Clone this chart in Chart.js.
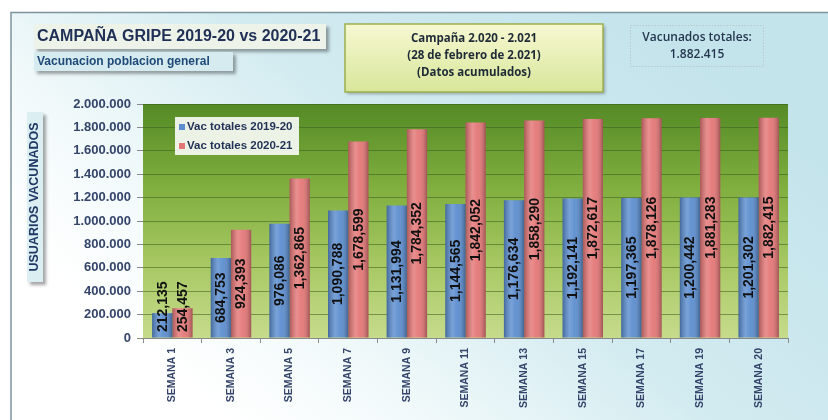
<!DOCTYPE html>
<html>
<head>
<meta charset="utf-8">
<script src="https://cdn.jsdelivr.net/npm/chart.js@4.4.1/dist/chart.umd.min.js"></script>
<style>
  html, body { margin: 0; padding: 0; background: #ffffff; }
  #wrap { width: 828px; height: 420px; position: relative; }
</style>
</head>
<body>
<div id="wrap"><canvas id="c" width="828" height="420"></canvas></div>
<script>
// ---- Data ----
const categories = ['SEMANA 1','SEMANA 3','SEMANA 5','SEMANA 7','SEMANA 9','SEMANA 11','SEMANA 13','SEMANA 15','SEMANA 17','SEMANA 19','SEMANA 20'];
const vac1920 = [212135, 684753, 976086, 1090788, 1131994, 1144565, 1176634, 1192141, 1197365, 1200442, 1201302];
const vac2021 = [254457, 924393, 1362865, 1678599, 1784352, 1842052, 1858290, 1872617, 1878126, 1881283, 1882415];
const seriesNames = ['Vac totales 2019-20', 'Vac totales 2020-21'];
const yMin = 0, yMax = 2000000, yStep = 200000;
const titleText = 'CAMPAÑA GRIPE 2019-20 vs 2020-21';
const subtitleText = 'Vacunacion poblacion general';
const infoLines = ['Campaña 2.020 - 2.021', '(28 de febrero de 2.021)', '(Datos acumulados)'];
const totalLines = ['Vacunados totales:', '1.882.415'];
const yAxisTitle = 'USUARIOS VACUNADOS';

const ARIAL = '"Liberation Sans", Arial, sans-serif';
const CALIBRI = '"Open Sans", "Noto Sans", sans-serif';

function fmtDots(n) { return String(n).replace(/\B(?=(\d{3})+(?!\d))/g, '.'); }
function fmtCommas(n) { return String(n).replace(/\B(?=(\d{3})+(?!\d))/g, ','); }

// ---- Background & decoration plugin ----
const decor = {
  id: 'decor',
  beforeDraw(chart) {
    const ctx = chart.ctx, W = chart.width, H = chart.height, ca = chart.chartArea;
    ctx.save();
    ctx.fillStyle = '#ffffff';
    ctx.fillRect(0, 0, W, H);
    // light blue panel
    const g = ctx.createLinearGradient(620, 0, 250, 440);
    g.addColorStop(0, '#c4e4ec');
    g.addColorStop(0.45, '#d2ebf0');
    g.addColorStop(0.8, '#f3fafb');
    g.addColorStop(1, '#ffffff');
    ctx.fillStyle = g;
    ctx.fillRect(11, 12, W - 11, H - 12);
    // frame
    ctx.strokeStyle = '#7e949c';
    ctx.lineWidth = 1.5;
    ctx.beginPath();
    ctx.moveTo(11, H); ctx.lineTo(11, 12.5); ctx.lineTo(W, 12.5);
    ctx.stroke();

    // plot area gradient
    const pg = ctx.createLinearGradient(0, ca.top, 0, ca.bottom);
    pg.addColorStop(0, '#548a26');
    pg.addColorStop(0.35, '#7fae3e');
    pg.addColorStop(0.7, '#a9c965');
    pg.addColorStop(1, '#c6db8c');
    ctx.fillStyle = pg;
    ctx.fillRect(ca.left, ca.top, ca.right - ca.left, ca.bottom - ca.top);

    // title box
    ctx.save();
    ctx.shadowColor = 'rgba(0,0,0,0.35)';
    ctx.shadowOffsetX = 3; ctx.shadowOffsetY = 3; ctx.shadowBlur = 3;
    ctx.fillStyle = '#edf3e8';
    ctx.fillRect(34, 24, 292, 25);
    ctx.fillStyle = '#d6ebef';
    ctx.fillRect(34, 52, 199, 19);
    // y title box
    ctx.fillStyle = '#dbeef2';
    ctx.fillRect(27, 112, 16, 170);
    ctx.restore();

    ctx.fillStyle = '#1f2f55';
    ctx.font = 'bold 16px ' + ARIAL;
    ctx.textBaseline = 'middle';
    ctx.textAlign = 'left';
    ctx.fillText(titleText, 37, 36.5);
    ctx.fillStyle = '#1f4a78';
    ctx.font = 'bold 12px ' + ARIAL;
    ctx.fillText(subtitleText, 37, 61.5);

    // info box
    ctx.save();
    ctx.shadowColor = 'rgba(0,0,0,0.3)';
    ctx.shadowOffsetX = 2; ctx.shadowOffsetY = 2; ctx.shadowBlur = 3;
    const yg = ctx.createLinearGradient(0, 24, 0, 92);
    yg.addColorStop(0, '#f7f8d2');
    yg.addColorStop(1, '#d8e69a');
    ctx.fillStyle = yg;
    ctx.fillRect(345, 24, 258, 68);
    ctx.restore();
    ctx.strokeStyle = '#9cb04c';
    ctx.lineWidth = 1.5;
    ctx.strokeRect(345, 24, 258, 68);
    ctx.fillStyle = '#1e2a36';
    ctx.font = 'bold 11.5px ' + CALIBRI;
    ctx.textAlign = 'center';
    infoLines.forEach((t, i) => ctx.fillText(t, 474, 39 + i * 17));

    // totals box
    ctx.save();
    ctx.setLineDash([1.5, 1.5]);
    ctx.strokeStyle = '#b9c8cd';
    ctx.lineWidth = 1;
    ctx.strokeRect(630.5, 25.5, 133, 41);
    ctx.restore();
    ctx.fillStyle = '#24374f';
    ctx.font = '600 12px ' + CALIBRI;
    ctx.fillText(totalLines[0], 697, 38);
    ctx.fillText(totalLines[1], 697, 55);

    // y axis title
    ctx.save();
    ctx.translate(35, 197);
    ctx.rotate(-Math.PI / 2);
    ctx.fillStyle = '#1f3864';
    ctx.font = 'bold 12.5px ' + ARIAL;
    ctx.textAlign = 'center';
    ctx.textBaseline = 'middle';
    ctx.fillText(yAxisTitle, 0, 0);
    ctx.restore();
    ctx.restore();
  },
  afterDatasetsDraw(chart) {
    const ctx = chart.ctx;
    const base = chart.scales.y.getPixelForValue(0);
    ctx.save();
    // cylinder shading on bars
    chart.data.datasets.forEach((ds, di) => {
      const meta = chart.getDatasetMeta(di);
      meta.data.forEach(bar => {
        const w = bar.width, x0 = bar.x - w / 2;
        const sg = ctx.createLinearGradient(x0, 0, x0 + w, 0);
        sg.addColorStop(0, 'rgba(0,0,0,0.25)');
        sg.addColorStop(0.35, 'rgba(255,255,255,0.18)');
        sg.addColorStop(0.6, 'rgba(255,255,255,0.05)');
        sg.addColorStop(1, 'rgba(0,0,0,0.3)');
        ctx.fillStyle = sg;
        ctx.fillRect(x0, bar.y, w, bar.base - bar.y);
      });
    });
    // data labels
    ctx.font = 'bold 14px ' + ARIAL;
    ctx.fillStyle = '#111111';
    ctx.textAlign = 'center';
    ctx.textBaseline = 'middle';
    chart.data.datasets.forEach((ds, di) => {
      const meta = chart.getDatasetMeta(di);
      meta.data.forEach((bar, i) => {
        const txt = fmtCommas(ds.data[i]);
        const len = ctx.measureText(txt).width;
        let cy = (bar.y + bar.base) / 2;
        cy = Math.min(cy, base - len / 2 - 6);
        ctx.save();
        ctx.translate(bar.x + 0.5, cy);
        ctx.rotate(-Math.PI / 2);
        ctx.fillText(txt, 0, 0);
        ctx.restore();
      });
    });
    ctx.restore();
  },
  afterDraw(chart) {
    const ctx = chart.ctx;
    ctx.save();
    ctx.fillStyle = 'rgba(255,255,255,0.88)';
    ctx.fillRect(175, 117, 124, 38);
    ctx.font = 'bold 11.5px ' + ARIAL;
    ctx.textBaseline = 'middle';
    ctx.textAlign = 'left';
    chart.data.datasets.forEach((ds, i) => {
      const y = 127 + i * 19;
      ctx.fillStyle = ds.backgroundColor;
      ctx.fillRect(179, y - 3, 6, 6);
      ctx.fillStyle = '#1f2f55';
      ctx.fillText(ds.label, 187, y);
    });
    ctx.restore();
  }
};

new Chart(document.getElementById('c'), {
  type: 'bar',
  data: {
    labels: categories,
    datasets: [
      { label: seriesNames[0], data: vac1920, backgroundColor: '#5b8dcf', borderWidth: 0, categoryPercentage: 0.69, barPercentage: 1.0 },
      { label: seriesNames[1], data: vac2021, backgroundColor: '#e47676', borderWidth: 0, categoryPercentage: 0.69, barPercentage: 1.0 }
    ]
  },
  options: {
    responsive: false,
    animation: false,
    events: [],
    layout: { padding: { left: 0, right: 40, top: 104, bottom: 0 } },
    plugins: { legend: { display: false }, title: { display: false }, tooltip: { enabled: false } },
    scales: {
      x: {
        afterFit(s) { s.height = 82; },
        grid: { offset: true, drawOnChartArea: false, tickLength: 5, color: '#8a8a8a' },
        border: { color: '#8a8a8a', width: 1 },
        ticks: {
          minRotation: 90, maxRotation: 90, autoSkip: false, padding: 5,
          color: '#34446a', font: { family: ARIAL, size: 10.5, weight: 'bold' }
        }
      },
      y: {
        min: yMin, max: yMax,
        afterFit(s) { s.width = 143; },
        grid: { color: 'rgba(58,92,28,0.55)', tickLength: 6, tickColor: '#8a8a8a' },
        border: { display: false },
        ticks: {
          stepSize: yStep, padding: 6,
          color: '#34446a', font: { family: ARIAL, size: 13, weight: 'bold' },
          callback: v => fmtDots(v)
        }
      }
    }
  },
  plugins: [decor]
});
</script>
</body>
</html>
